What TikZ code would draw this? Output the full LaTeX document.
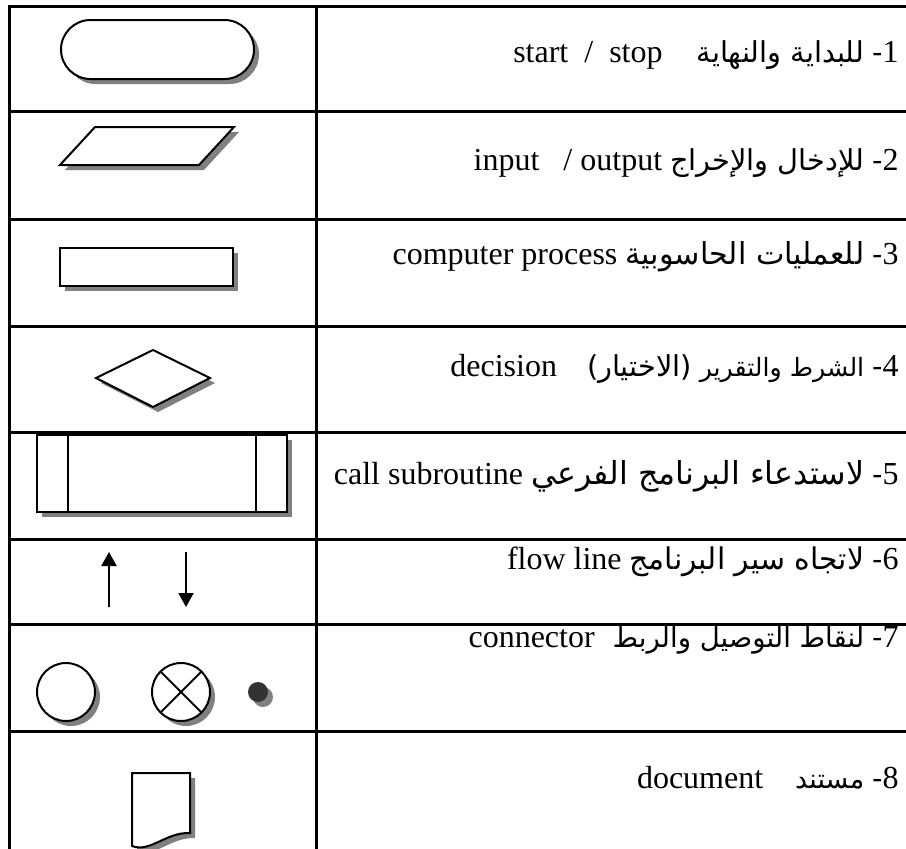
\documentclass[tikz,border=0pt]{standalone}
\usepackage{fontspec}
\setmainfont{Liberation Serif}
\newfontfamily\arabicfont[Script=Arabic,Scale=0.9]{DejaVu Sans}
\TeXXeTstate=1
\usetikzlibrary{arrows.meta, shadows}
\definecolor{shadowgray}{RGB}{128,128,128}
\definecolor{dotgray}{RGB}{51,51,51}
\newcommand{\arb}[1]{{\arabicfont #1}}
\newcommand{\arbs}[2]{{\fontsize{#1}{19}\arabicfont #2}}

\begin{document}
\begin{tikzpicture}[x=0.5pt, y=-0.5pt,
    grid/.style={line width=1.5pt, line cap=rect},
    sym/.style={line width=1pt, fill=white,
      drop shadow={shadow xshift=2.5pt, shadow yshift=-2.5pt, fill=shadowgray, opacity=1}},
    flow/.style={line width=1pt, -{Triangle[width=7.5pt, length=7pt]}},
    entry/.style={anchor=mid east, inner sep=0pt, font=\fontsize{16}{19}\selectfont}]
    \useasboundingbox (0,0) rectangle (906,848);
    % table
    \foreach \y in {6,111,219,326,432,539,624,731}
        \draw[grid] (9,\y) -- (906,\y);
    \draw[grid] (9,6) -- (9,850);
    \draw[grid] (316,6) -- (316,850);
    % symbols
    \draw[sym, rounded corners=14.75pt] (61,20) rectangle (254,79);
    \draw[sym] (95,127) -- (234,127) -- (199,165) -- (60,165) -- cycle;
    \draw[sym] (60,248) rectangle (233,286);
    \draw[sym] (96,378) -- (153,350) -- (210,378) -- (153,407) -- cycle;
    \draw[sym] (37,435) rectangle (287,512);
    \draw[line width=1pt] (68,435) -- (68,512) (256,435) -- (256,512);
    \coordinate (uptail) at (109,607);
    \coordinate (uphead) at (109,552);
    \coordinate (downtail) at (186,552);
    \coordinate (downhead) at (186,607);
    \draw[flow] (uptail) -- (uphead);
    \draw[flow] (downtail) -- (downhead);
    \draw[sym] (66,692) circle[radius=14.5pt];
    \draw[sym] (181,692) circle[radius=14.5pt];
    \draw[line width=1pt] (160.5,671.5) -- (201.5,712.5) (201.5,671.5) -- (160.5,712.5);
    \path[sym, fill=dotgray] (258,692) circle[radius=5pt];
    \draw[sym] (190,833) -- (190,773) -- (132,773) -- (132,846)
        .. controls (150,853) and (166,832) .. (190,833) -- cycle;
    % texts
    \node[entry] (row1) at (899,58)
        {\beginR 1\arb{-} \arb{للبداية والنهاية}\hspace{17pt}\beginL start\hspace{8pt}/\hspace{8pt}stop\endL\endR};
    \node[entry] (row2) at (899,166)
        {\beginR 2\arb{-} \arb{للإدخال والإخراج} \beginL input\hspace{12pt}/ output\endL\endR};
    \node[entry] (row3) at (899,260)
        {\beginR 3\arb{-} \arbs{16.8}{للعمليات الحاسوبية} \beginL computer process\endL\endR};
    \node[entry] (row4) at (899,372)
        {\beginR 4\arb{-} \arbs{14}{الشرط والتقرير} \arb{(الاختيار)}\hspace{15pt}\beginL decision\endL\endR};
    \node[entry] (row5) at (899,480)
        {\beginR 5\arb{-} \arbs{17.6}{لاستدعاء البرنامج الفرعي} \beginL call subroutine\endL\endR};
    \node[entry] (row6) at (899,565)
        {\beginR 6\arb{-} \arbs{16.6}{لاتجاه سير البرنامج} \beginL flow line\endL\endR};
    \node[entry] (row7) at (899,643)
        {\beginR 7\arb{-} \arbs{15.3}{لنقاط التوصيل والربط}\hspace{9pt}\beginL connector\endL\endR};
    \node[entry] (row8) at (899,784)
        {\beginR 8\arb{-} \arbs{15}{مستند}\hspace{16pt}\beginL document\endL\endR};
\end{tikzpicture}
\end{document}
